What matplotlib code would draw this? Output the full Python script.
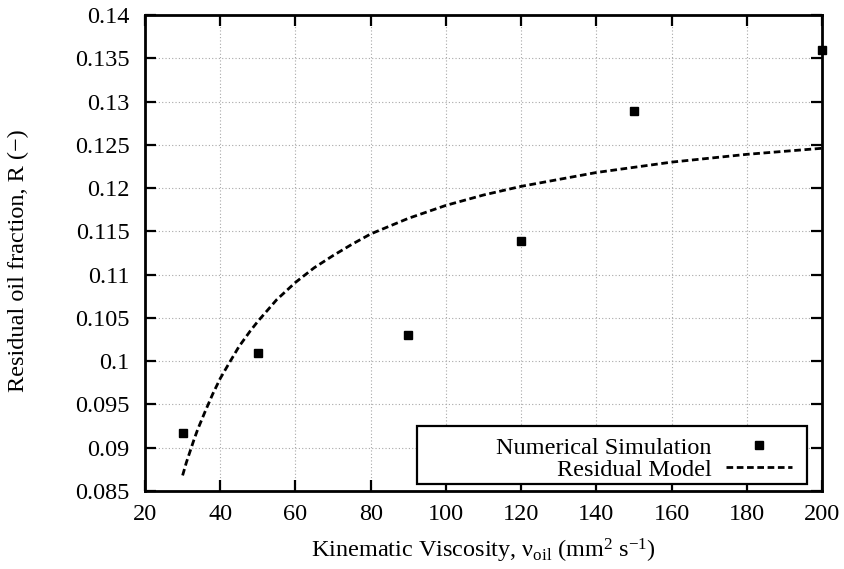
import matplotlib
matplotlib.use("Agg")
import matplotlib.pyplot as plt
from matplotlib.patches import Rectangle

# Numerical simulation points
sim_visc = [30, 50, 90, 120, 150, 200]
sim_R = [0.0917, 0.1010, 0.1030, 0.1139, 0.1289, 0.1359]

# Residual model curve
model_visc = [30, 31, 32, 33, 34, 36, 38, 40, 42, 45, 48, 50, 55, 60, 65, 70, 75, 80,
              90, 100, 110, 120, 140, 160, 180, 200]
model_R = [0.0868, 0.0883, 0.0896, 0.0909, 0.0921, 0.0942, 0.0962, 0.0980, 0.0995,
           0.1017, 0.1035, 0.1046, 0.1071, 0.1091, 0.1108, 0.1122, 0.1135, 0.1147,
           0.1165, 0.1180, 0.1192, 0.1202, 0.1218, 0.1230, 0.1239, 0.1246]

xticks = [20, 40, 60, 80, 100, 120, 140, 160, 180, 200]
yticks = [0.085, 0.09, 0.095, 0.1, 0.105, 0.11, 0.115, 0.12, 0.125, 0.13, 0.135, 0.14]
ytick_labels = ["0.085", "0.09", "0.095", "0.1", "0.105", "0.11", "0.115", "0.12",
                "0.125", "0.13", "0.135", "0.14"]

FS = 17.5
plt.rcParams['font.family'] = ['Liberation Serif', 'DejaVu Serif']
plt.rcParams['mathtext.fontset'] = 'custom'
plt.rcParams['mathtext.rm'] = 'Liberation Serif'
plt.rcParams['mathtext.it'] = 'Liberation Serif:italic'
plt.rcParams['font.size'] = FS

fig = plt.figure(figsize=(8.45, 5.69), dpi=100)
ax = fig.add_axes([145/845, 1 - 491/569, 677/845, 476/569])

ax.plot(model_visc, model_R, color='black', lw=2.0, dashes=(2.4, 1.3),
        label='Residual Model', zorder=3)
ax.plot(sim_visc, sim_R, linestyle='none', marker='s', ms=6, color='black',
        label='Numerical Simulation', zorder=4, clip_on=False)

ax.set_xlim(20, 200)
ax.set_ylim(0.085, 0.14)
ax.set_xticks(xticks)
ax.set_yticks(yticks)
ax.set_yticklabels(ytick_labels)

ax.grid(True, color='#a8a8a8', linestyle=(0, (1, 2)), linewidth=0.8)
ax.set_axisbelow(True)

for sp in ax.spines.values():
    sp.set_linewidth(2.0)
ax.tick_params(direction='in', length=8, width=1.6, top=True, right=True,
               labelsize=FS)
ax.tick_params(axis='x', pad=9)
ax.tick_params(axis='y', pad=11)

ax.set_xlabel(r'Kinematic Viscosity, ν$_{\mathrm{oil}}$ (mm$^2$ s$^{-1}$)', fontsize=FS)
ax.set_ylabel('Residual oil fraction, R (−)', fontsize=FS)
ax.xaxis.set_label_coords(0.5, -0.097)
ax.yaxis.set_label_coords(-0.172, 0.484)

# legend frame
rect = Rectangle(((417-145)/677, (491-484)/476), (807-417)/677, (484-426)/476,
                 transform=ax.transAxes, facecolor='white', edgecolor='black',
                 linewidth=1.6, zorder=5)
ax.add_patch(rect)

h, l = ax.get_legend_handles_labels()
leg = ax.legend(h[::-1], l[::-1], loc='lower right', frameon=False,
                bbox_to_anchor=((792-145)/677, (491-481)/476), borderpad=0,
                borderaxespad=0, markerfirst=False, handlelength=2.7,
                handletextpad=0.6, labelspacing=0.0, fontsize=FS)
leg.set_zorder(6)

fig.savefig('out.png', dpi=100)
